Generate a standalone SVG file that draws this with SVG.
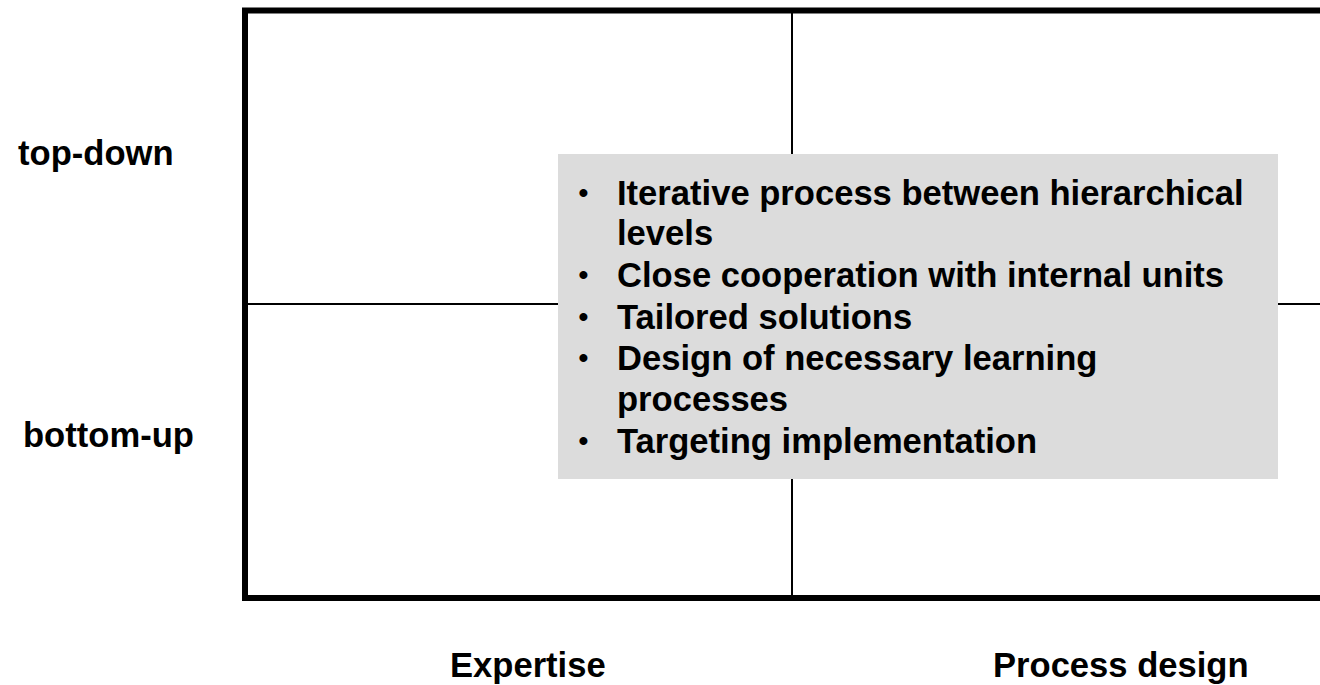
<svg xmlns="http://www.w3.org/2000/svg" width="1320" height="685" viewBox="0 0 1320 685">
  <style>
    .lbl { font-family: "Liberation Sans", Arial, sans-serif; font-weight: bold; font-size: 34.6px; fill: #000; }
    .bul { font-family: "Liberation Sans", Arial, sans-serif; font-weight: bold; font-size: 28px; fill: #000; }
    .frame { fill: none; stroke: #000; stroke-width: 6; }
    .grid { stroke: #000; stroke-width: 2; }
  </style>
  <rect width="1320" height="685" fill="#fff"/>

  <!-- matrix frame and quadrant dividers -->
  <g id="matrix">
    <rect class="frame" x="245" y="10.5" width="1100" height="587.5"/>
    <line class="grid" x1="792" y1="10" x2="792" y2="598"/>
    <line class="grid" x1="245" y1="304" x2="1320" y2="304"/>
  </g>

  <!-- row labels -->
  <g id="row-top"><text class="lbl" x="18" y="165">top-down</text></g>
  <g id="row-bottom"><text class="lbl" x="23" y="447">bottom-up</text></g>

  <!-- column labels -->
  <g id="col-left"><text class="lbl" x="450" y="677">Expertise</text></g>
  <g id="col-right"><text class="lbl" x="993" y="677">Process design</text></g>

  <!-- bullet list box -->
  <g id="approach-box">
    <rect x="558" y="154" width="720" height="325" fill="#dcdcdc"/>
    <g class="bul">
      <text x="578.5" y="202">•</text>
      <text x="578.5" y="284">•</text>
      <text x="578.5" y="326">•</text>
      <text x="578.5" y="367">•</text>
      <text x="578.5" y="450">•</text>
    </g>
    <g class="lbl">
      <text x="617" y="205">Iterative process between hierarchical</text>
      <text x="617" y="245">levels</text>
      <text x="617" y="287">Close cooperation with internal units</text>
      <text x="617" y="329">Tailored solutions</text>
      <text x="617" y="370">Design of necessary learning</text>
      <text x="617" y="411">processes</text>
      <text x="617" y="453">Targeting implementation</text>
    </g>
  </g>
</svg>
